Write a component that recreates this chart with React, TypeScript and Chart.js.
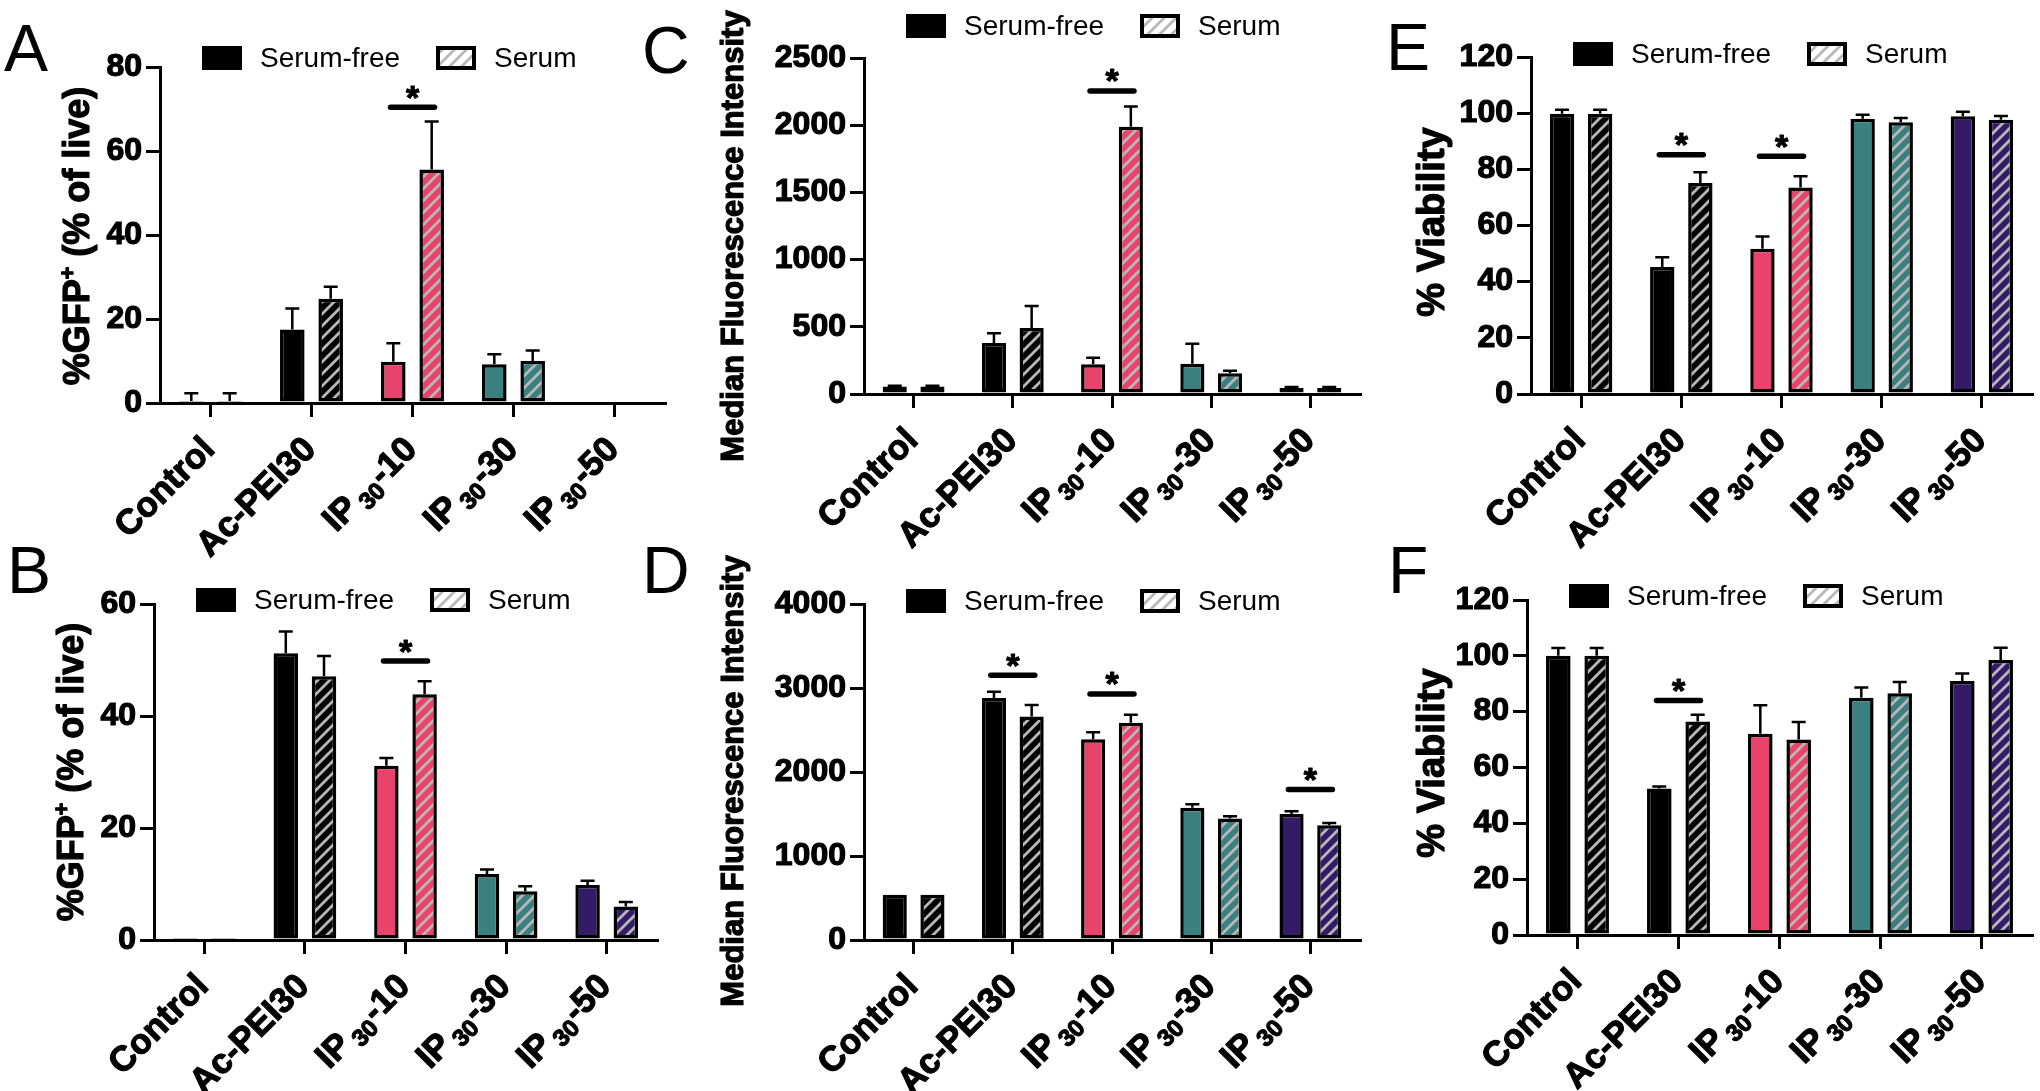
import React, { useEffect, useRef } from 'react';
import { Chart, registerables } from 'chart.js';

Chart.register(...registerables);

// ---------------- DATA ----------------
const categories = ['Control', 'Ac-PEI30', 'IP30-10', 'IP30-30', 'IP30-50'];
const categoryColors = ['#000000', '#000000', '#E9436B', '#3B8081', '#331B68'];
const seriesNames = ['Serum-free', 'Serum'];

// Panel A: %GFP+ (% of live)
const aSerumFree = [0.5, 17.5, 9.8, 9.2, 0];
const aSerumFreeErr = [2.3, 22.5, 14.2, 11.6, null];
const aSerum = [0.5, 24.8, 55.6, 10.0, 0];
const aSerumErr = [2.3, 27.7, 67.0, 12.5, null];
const aSigCats = [2];
const aSigLevels = [70.4];
const aTicks = [0, 20, 40, 60, 80];

// Panel B: %GFP+ (% of live)
const bSerumFree = [0.2, 51.2, 31.1, 11.8, 9.8];
const bSerumFreeErr = [null, 55.1, 32.5, 12.6, 10.6];
const bSerum = [0.2, 47.1, 43.9, 8.7, 6.0];
const bSerumErr = [null, 50.7, 46.2, 9.6, 6.8];
const bSigCats = [2];
const bSigLevels = [49.8];
const bTicks = [0, 20, 40, 60];

// Panel C: Median Fluorescence Intensity
const cSerumFree = [55, 380, 221, 226, 45];
const cSerumFreeErr = [62, 452, 269, 373, 52];
const cSerum = [55, 492, 1988, 155, 45];
const cSerumErr = [62, 655, 2140, 173, 52];
const cSigCats = [2];
const cSigLevels = [2254];
const cTicks = [0, 500, 1000, 1500, 2000, 2500];

// Panel D: Median Fluorescence Intensity
const dSerumFree = [540, 2880, 2390, 1575, 1499];
const dSerumFreeErr = [null, 2955, 2474, 1617, 1532];
const dSerum = [540, 2662, 2587, 1446, 1366];
const dSerumErr = [null, 2797, 2683, 1474, 1394];
const dSigCats = [1, 2, 4];
const dSigLevels = [3151, 2930, 1792];
const dTicks = [0, 1000, 2000, 3000, 4000];

// Panel E: % Viability
const eSerumFree = [99.8, 45.2, 51.7, 98.0, 98.9];
const eSerumFreeErr = [101.2, 48.7, 56.1, 99.4, 100.5];
const eSerum = [99.8, 75.1, 73.5, 96.8, 97.7];
const eSerumErr = [101.2, 79.0, 77.5, 98.3, 99.0];
const eSigCats = [1, 2];
const eSigLevels = [85.2, 84.7];
const eTicks = [0, 20, 40, 60, 80, 100, 120];

// Panel F: % Viability
const fSerumFree = [100, 52.5, 72.1, 85.0, 91.0];
const fSerumFreeErr = [102.8, 53.2, 82.3, 88.7, 93.7];
const fSerum = [100, 76.5, 70.0, 86.6, 98.5];
const fSerumErr = [102.8, 78.9, 76.3, 90.6, 102.9];
const fSigCats = [1];
const fSigLevels = [84.0];
const fTicks = [0, 20, 40, 60, 80, 100, 120];

const gfpTitle = [{ t: '%GFP' }, { t: '+', sup: true }, { t: ' (% of live)' }];
const mfiTitle = [{ t: 'Median Fluorescence Intensity' }];
const viaTitle = [{ t: '% Viability' }];

// ---------------- LAYOUT / STYLE ----------------
const FONT = "'Liberation Sans', Arial, Helvetica, sans-serif";
const Y_W = 90;
const X_H = 20;

type TitlePart = { t: string; sup?: boolean };
interface Panel {
  letter: string;
  letterX: number;
  letterY: number;
  canvas: { left: number; top: number; width: number; height: number };
  area: { left: number; top: number; right: number; bottom: number };
  ticks: number[];
  title: TitlePart[];
  titleX: number;
  titleY: number;
  titleSize: number;
  legendY: number;
  sf: number[];
  sfErr: (number | null)[];
  s: number[];
  sErr: (number | null)[];
  sigCats: number[];
  sigLevels: number[];
}

const panels: Panel[] = [
  {
    letter: 'A', letterX: 4, letterY: 71,
    canvas: { left: 0, top: 0, width: 700, height: 600 },
    area: { left: 160, top: 67, right: 665, bottom: 403 },
    ticks: aTicks, title: gfpTitle, titleX: 76, titleY: 236, titleSize: 36, legendY: 58,
    sf: aSerumFree, sfErr: aSerumFreeErr, s: aSerum, sErr: aSerumErr, sigCats: aSigCats, sigLevels: aSigLevels,
  },
  {
    letter: 'C', letterX: 642, letterY: 73,
    canvas: { left: 630, top: 0, width: 750, height: 600 },
    area: { left: 864, top: 58, right: 1360, bottom: 394 },
    ticks: cTicks, title: mfiTitle, titleX: 732, titleY: 236, titleSize: 31, legendY: 26,
    sf: cSerumFree, sfErr: cSerumFreeErr, s: cSerum, sErr: cSerumErr, sigCats: cSigCats, sigLevels: cSigLevels,
  },
  {
    letter: 'E', letterX: 1386, letterY: 70,
    canvas: { left: 1370, top: 0, width: 670, height: 600 },
    area: { left: 1531, top: 57, right: 2032, bottom: 394 },
    ticks: eTicks, title: viaTitle, titleX: 1430, titleY: 222, titleSize: 38, legendY: 54,
    sf: eSerumFree, sfErr: eSerumFreeErr, s: eSerum, sErr: eSerumErr, sigCats: eSigCats, sigLevels: eSigLevels,
  },
  {
    letter: 'B', letterX: 7, letterY: 593,
    canvas: { left: 0, top: 530, width: 700, height: 561 },
    area: { left: 154, top: 604, right: 657, bottom: 940 },
    ticks: bTicks, title: gfpTitle, titleX: 70, titleY: 772, titleSize: 36, legendY: 600,
    sf: bSerumFree, sfErr: bSerumFreeErr, s: bSerum, sErr: bSerumErr, sigCats: bSigCats, sigLevels: bSigLevels,
  },
  {
    letter: 'D', letterX: 642, letterY: 593,
    canvas: { left: 630, top: 530, width: 750, height: 561 },
    area: { left: 864, top: 604, right: 1360, bottom: 940 },
    ticks: dTicks, title: mfiTitle, titleX: 732, titleY: 781, titleSize: 31, legendY: 601,
    sf: dSerumFree, sfErr: dSerumFreeErr, s: dSerum, sErr: dSerumErr, sigCats: dSigCats, sigLevels: dSigLevels,
  },
  {
    letter: 'F', letterX: 1388, letterY: 593,
    canvas: { left: 1370, top: 530, width: 670, height: 561 },
    area: { left: 1527, top: 600, right: 2032, bottom: 935 },
    ticks: fTicks, title: viaTitle, titleX: 1430, titleY: 763, titleSize: 38, legendY: 596,
    sf: fSerumFree, sfErr: fSerumFreeErr, s: fSerum, sErr: fSerumErr, sigCats: fSigCats, sigLevels: fSigLevels,
  },
];

function makePattern(base: string): CanvasPattern | string {
  const size = 12;
  const c = document.createElement('canvas');
  c.width = size;
  c.height = size;
  const g = c.getContext('2d');
  if (!g) return base;
  g.fillStyle = base;
  g.fillRect(0, 0, size, size);
  g.strokeStyle = '#b8b8b8';
  g.lineWidth = 2.8;
  g.beginPath();
  for (const k of [-size, 0, size]) {
    g.moveTo(k - 1, size + 1);
    g.lineTo(k + size + 1, -1);
  }
  g.stroke();
  const p = g.createPattern(c, 'repeat');
  return p || base;
}

function boldText(ctx: CanvasRenderingContext2D, t: string, x: number, y: number, sw: number) {
  ctx.fillText(t, x, y);
  if (sw > 0) {
    ctx.lineWidth = sw;
    ctx.strokeStyle = ctx.fillStyle as string;
    ctx.lineJoin = 'round';
    ctx.strokeText(t, x, y);
  }
}

function drawCategoryLabel(ctx: CanvasRenderingContext2D, label: string, x: number, y: number, size: number) {
  const parts: { t: string; s: number; dy: number; gap: number }[] = label.startsWith('IP30')
    ? [
        { t: 'IP', s: size, dy: 0, gap: 0 },
        { t: '30', s: size * 0.68, dy: size * 0.2, gap: 5 },
        { t: label.slice(4), s: size, dy: 0, gap: 1 },
      ]
    : [{ t: label, s: size, dy: 0, gap: 0 }];
  let total = 0;
  const widths: number[] = [];
  for (const p of parts) {
    ctx.font = `bold ${p.s}px ${FONT}`;
    const w = ctx.measureText(p.t).width;
    widths.push(w);
    total += w + p.gap;
  }
  ctx.save();
  ctx.translate(x, y);
  ctx.rotate(-Math.PI / 4);
  ctx.textAlign = 'left';
  ctx.textBaseline = 'alphabetic';
  ctx.fillStyle = '#000';
  let cur = -total;
  parts.forEach((p, i) => {
    cur += p.gap;
    ctx.font = `bold ${p.s}px ${FONT}`;
    boldText(ctx, p.t, cur, size * 0.36 + p.dy, 1.2);
    cur += widths[i];
  });
  ctx.restore();
}

function drawTitle(ctx: CanvasRenderingContext2D, parts: TitlePart[], cx: number, cy: number, size: number) {
  const supSize = size * 0.6;
  let total = 0;
  const widths: number[] = [];
  for (const p of parts) {
    ctx.font = `bold ${p.sup ? supSize : size}px ${FONT}`;
    const w = ctx.measureText(p.t).width;
    widths.push(w);
    total += w;
  }
  ctx.save();
  ctx.translate(cx, cy);
  ctx.rotate(-Math.PI / 2);
  ctx.textAlign = 'left';
  ctx.textBaseline = 'alphabetic';
  ctx.fillStyle = '#000';
  let cur = -total / 2;
  parts.forEach((p, i) => {
    ctx.font = `bold ${p.sup ? supSize : size}px ${FONT}`;
    boldText(ctx, p.t, cur, size * 0.36 + (p.sup ? -size * 0.38 : 0), 1.2);
    cur += widths[i];
  });
  ctx.restore();
}

function makeDecorPlugin(p: Panel) {
  const ox = p.canvas.left;
  const oy = p.canvas.top;
  return {
    id: 'decor' + p.letter,
    afterDatasetsDraw(chart: any) {
      const ctx: CanvasRenderingContext2D = chart.ctx;
      const ys = chart.scales.y;
      const xs = chart.scales.x;
      ctx.save();
      // error bars (upper only)
      ctx.strokeStyle = '#000';
      ctx.lineWidth = 2.5;
      [p.sfErr, p.sErr].forEach((errs, di) => {
        const meta = chart.getDatasetMeta(di);
        meta.data.forEach((bar: any, i: number) => {
          const e = errs[i];
          if (e == null) return;
          const top = ys.getPixelForValue(e);
          ctx.beginPath();
          ctx.moveTo(bar.x, bar.y);
          ctx.lineTo(bar.x, top);
          ctx.moveTo(bar.x - 7, top);
          ctx.lineTo(bar.x + 7, top);
          ctx.stroke();
        });
      });
      // significance markers
      p.sigCats.forEach((cat, k) => {
        const cx = xs.getPixelForValue(cat);
        const y = ys.getPixelForValue(p.sigLevels[k]);
        ctx.strokeStyle = '#000';
        ctx.lineWidth = 5.5;
        ctx.lineCap = 'round';
        ctx.beginPath();
        ctx.moveTo(cx - 22, y);
        ctx.lineTo(cx + 22, y);
        ctx.stroke();
        ctx.lineCap = 'butt';
        ctx.font = `bold 34px ${FONT}`;
        ctx.fillStyle = '#000';
        ctx.textAlign = 'center';
        ctx.textBaseline = 'alphabetic';
        boldText(ctx, '*', cx, y - 18 + 34 * 0.57, 1);
      });
      ctx.restore();
    },
    afterDraw(chart: any) {
      const ctx: CanvasRenderingContext2D = chart.ctx;
      const xs = chart.scales.x;
      const area = chart.chartArea;
      ctx.save();
      // panel letter
      ctx.fillStyle = '#000';
      ctx.font = `66px ${FONT}`;
      ctx.textAlign = 'left';
      ctx.textBaseline = 'alphabetic';
      ctx.fillText(p.letter, p.letterX - ox, p.letterY - oy);
      // y title
      drawTitle(ctx, p.title, p.titleX - ox, p.titleY - oy, p.titleSize);
      // legend
      const L = area.left;
      const ly = p.legendY - oy;
      ctx.fillStyle = '#000';
      ctx.fillRect(L + 42, ly - 12, 40, 24);
      ctx.font = `28px ${FONT}`;
      ctx.textAlign = 'left';
      ctx.textBaseline = 'middle';
      ctx.fillText(seriesNames[0], L + 100, ly + 1);
      ctx.fillStyle = makePattern('#ffffff') as any;
      ctx.fillRect(L + 276, ly - 12, 40, 24);
      ctx.strokeStyle = '#000';
      ctx.lineWidth = 4;
      ctx.strokeRect(L + 278, ly - 10, 36, 20);
      ctx.fillStyle = '#000';
      ctx.fillText(seriesNames[1], L + 334, ly + 1);
      // category labels
      categories.forEach((c, i) => {
        const x = xs.getPixelForValue(i);
        drawCategoryLabel(ctx, c, x - 3, area.bottom + 39, 35);
      });
      ctx.restore();
    },
  };
}

function PanelChart({ panel }: { panel: Panel }) {
  const ref = useRef<HTMLCanvasElement | null>(null);
  useEffect(() => {
    const canvas = ref.current;
    if (!canvas) return;
    const { canvas: cv, area } = panel;
    const hatch = categoryColors.map((c) => makePattern(c));
    const tickFont = { family: FONT, size: 32, weight: 'bold' as const };
    const chart = new Chart(canvas, {
      type: 'bar',
      data: {
        labels: categories,
        datasets: [
          {
            label: seriesNames[0],
            data: panel.sf,
            backgroundColor: categoryColors,
            borderColor: '#000',
            borderWidth: 3.5,
            borderSkipped: false,
            categoryPercentage: 0.76,
            barPercentage: 0.64,
          },
          {
            label: seriesNames[1],
            data: panel.s,
            backgroundColor: hatch as any,
            borderColor: '#000',
            borderWidth: 3.5,
            borderSkipped: false,
            categoryPercentage: 0.76,
            barPercentage: 0.64,
          },
        ],
      },
      options: {
        responsive: false,
        animation: false,
        devicePixelRatio: 1,
        layout: {
          padding: {
            left: area.left - cv.left - Y_W,
            top: area.top - cv.top,
            right: cv.left + cv.width - area.right,
            bottom: cv.top + cv.height - area.bottom - X_H,
          },
        },
        plugins: { legend: { display: false }, tooltip: { enabled: false } },
        scales: {
          x: {
            type: 'category',
            offset: true,
            grid: {
              display: true,
              drawOnChartArea: false,
              drawTicks: true,
              tickLength: 14,
              offset: false,
              color: '#000',
              lineWidth: 3,
            },
            border: { display: true, color: '#000', width: 3 },
            ticks: { display: false },
            afterFit: (s: any) => {
              s.height = X_H;
            },
          },
          y: {
            min: panel.ticks[0],
            max: panel.ticks[panel.ticks.length - 1],
            afterBuildTicks: (s: any) => {
              s.ticks = panel.ticks.map((v) => ({ value: v }));
            },
            ticks: {
              font: tickFont,
              color: '#000',
              padding: 4,
              textStrokeColor: '#000',
              textStrokeWidth: 1.2,
              callback: (v: any) => String(v),
            },
            grid: {
              display: true,
              drawOnChartArea: false,
              drawTicks: true,
              tickLength: 14,
              color: '#000',
              lineWidth: 3,
            },
            border: { display: true, color: '#000', width: 3 },
            afterFit: (s: any) => {
              s.width = Y_W;
            },
          },
        },
      },
      plugins: [makeDecorPlugin(panel)],
    });
    return () => chart.destroy();
  }, [panel]);
  const { canvas: cv } = panel;
  return (
    <canvas
      ref={ref}
      width={cv.width}
      height={cv.height}
      style={{ position: 'absolute', left: cv.left, top: cv.top, width: cv.width, height: cv.height }}
    />
  );
}

export default function App() {
  return (
    <div
      style={{
        position: 'absolute',
        left: 0,
        top: 0,
        width: 2040,
        height: 1091,
        background: '#ffffff',
        overflow: 'hidden',
      }}
    >
      {panels.map((p) => (
        <PanelChart key={p.letter} panel={p} />
      ))}
    </div>
  );
}
